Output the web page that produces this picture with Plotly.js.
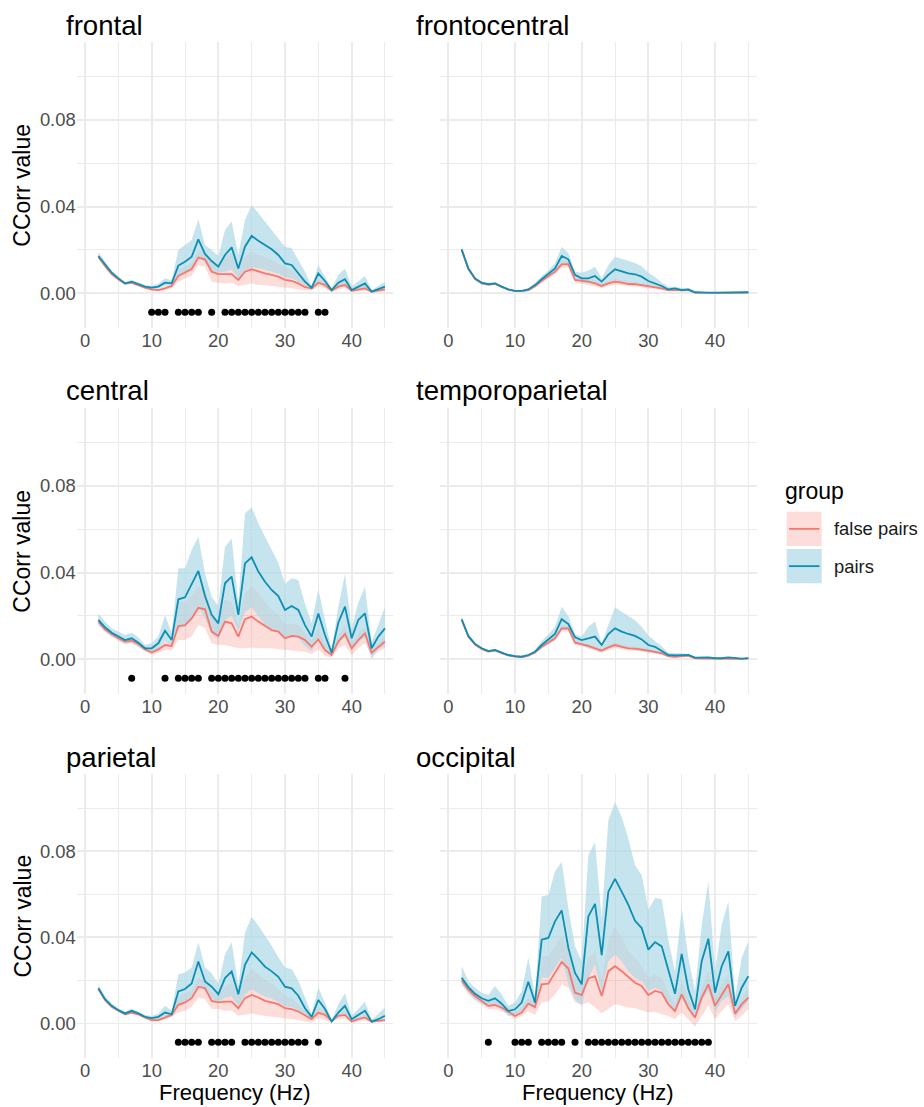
<!DOCTYPE html>
<html><head><meta charset="utf-8">
<script src="https://cdn.plot.ly/plotly-3.0.1.min.js"></script>
<style>html,body{margin:0;padding:0;background:#fff;overflow:hidden}</style>
</head><body><div id="chart" style="width:924px;height:1107px"></div>
<script>
// ---------------- DATA ----------------
const freq = [2,3,4,5,6,7,8,9,10,11,12,13,14,15,16,17,18,19,20,21,22,23,24,25,26,27,28,29,30,31,32,33,34,35,36,37,38,39,40,41,42,43,44,45];
const regions = ["frontal","frontocentral","central","temporoparietal","parietal","occipital"];
const groups = ["false pairs","pairs"];
const sigLevel = -0.0087;

// frontal
const frontalPairsMean = [0.0172,0.0131,0.0095,0.0069,0.0045,0.0054,0.0043,0.0031,0.0026,0.0031,0.0049,0.0046,0.0128,0.0146,0.0169,0.0249,0.0182,0.0149,0.0123,0.0177,0.0212,0.0115,0.0215,0.0265,0.0243,0.0223,0.0203,0.0177,0.0138,0.0131,0.0095,0.0054,0.0026,0.0092,0.0057,0.0015,0.0049,0.0065,0.0015,0.0031,0.0046,0.0008,0.0018,0.0031];
const frontalPairsHi = [0.0190,0.0145,0.0105,0.0078,0.0052,0.0062,0.0050,0.0038,0.0034,0.0045,0.0070,0.0060,0.0200,0.0223,0.0246,0.0342,0.0223,0.0200,0.0172,0.0292,0.0331,0.0177,0.0338,0.0408,0.0369,0.0331,0.0292,0.0254,0.0215,0.0208,0.0154,0.0100,0.0031,0.0131,0.0077,0.0023,0.0085,0.0115,0.0031,0.0054,0.0080,0.0015,0.0034,0.0054];
const frontalPairsLo = [0.0160,0.0120,0.0087,0.0062,0.0040,0.0047,0.0037,0.0026,0.0020,0.0022,0.0035,0.0036,0.0085,0.0100,0.0115,0.0170,0.0140,0.0105,0.0095,0.0100,0.0110,0.0070,0.0105,0.0120,0.0115,0.0110,0.0100,0.0090,0.0075,0.0070,0.0055,0.0035,0.0020,0.0050,0.0040,0.0010,0.0030,0.0040,0.0010,0.0020,0.0025,0.0003,0.0008,0.0015];
const frontalFalseMean = [0.0169,0.0126,0.0089,0.0065,0.0046,0.0049,0.0038,0.0026,0.0018,0.0015,0.0023,0.0034,0.0080,0.0095,0.0112,0.0165,0.0157,0.0100,0.0089,0.0089,0.0089,0.0062,0.0100,0.0111,0.0100,0.0092,0.0085,0.0077,0.0062,0.0058,0.0046,0.0028,0.0023,0.0049,0.0038,0.0012,0.0031,0.0038,0.0012,0.0018,0.0023,0.0008,0.0012,0.0018];
const frontalFalseHi = [0.0178,0.0134,0.0096,0.0072,0.0053,0.0056,0.0045,0.0033,0.0025,0.0023,0.0032,0.0042,0.0108,0.0123,0.0138,0.0200,0.0185,0.0138,0.0131,0.0169,0.0185,0.0131,0.0169,0.0192,0.0177,0.0166,0.0154,0.0138,0.0120,0.0108,0.0085,0.0054,0.0034,0.0069,0.0054,0.0018,0.0046,0.0054,0.0018,0.0031,0.0038,0.0012,0.0022,0.0028];
const frontalFalseLo = [0.0160,0.0118,0.0082,0.0058,0.0039,0.0042,0.0031,0.0019,0.0011,0.0008,0.0014,0.0024,0.0054,0.0069,0.0080,0.0131,0.0123,0.0054,0.0049,0.0046,0.0049,0.0034,0.0038,0.0046,0.0038,0.0038,0.0034,0.0031,0.0028,0.0023,0.0018,0.0015,0.0012,0.0031,0.0023,0.0006,0.0018,0.0025,0.0006,0.0010,0.0012,0.0003,0.0006,0.0010];
const frontalSig = [10,11,12,14,15,16,17,19,21,22,23,24,25,26,27,28,29,30,31,32,33,35,36];

// frontocentral
const frontocentralPairsMean = [0.0203,0.0115,0.0069,0.0049,0.0042,0.0046,0.0031,0.0018,0.0011,0.0011,0.0018,0.0038,0.0065,0.0089,0.0115,0.0172,0.0157,0.0085,0.0069,0.0069,0.0080,0.0054,0.0085,0.0111,0.0100,0.0092,0.0088,0.0077,0.0057,0.0046,0.0034,0.0018,0.0023,0.0015,0.0018,0.0005,0.0003,0.0003,0.0003,0.0003,0.0003,0.0003,0.0004,0.0005];
const frontocentralPairsHi = [0.0215,0.0125,0.0076,0.0055,0.0047,0.0051,0.0035,0.0021,0.0014,0.0014,0.0023,0.0048,0.0080,0.0105,0.0140,0.0215,0.0185,0.0100,0.0095,0.0105,0.0123,0.0070,0.0130,0.0169,0.0160,0.0150,0.0140,0.0125,0.0095,0.0075,0.0050,0.0030,0.0030,0.0025,0.0025,0.0008,0.0005,0.0005,0.0005,0.0005,0.0005,0.0005,0.0006,0.0007];
const frontocentralPairsLo = [0.0190,0.0105,0.0062,0.0043,0.0037,0.0041,0.0027,0.0015,0.0008,0.0008,0.0013,0.0030,0.0055,0.0075,0.0095,0.0135,0.0130,0.0070,0.0050,0.0045,0.0045,0.0040,0.0050,0.0060,0.0050,0.0045,0.0045,0.0040,0.0030,0.0025,0.0020,0.0010,0.0015,0.0008,0.0010,0.0002,0.0001,0.0001,0.0001,0.0001,0.0001,0.0001,0.0002,0.0003];
const frontocentralFalseMean = [0.0200,0.0112,0.0066,0.0046,0.0040,0.0044,0.0030,0.0017,0.0010,0.0010,0.0015,0.0033,0.0058,0.0080,0.0100,0.0134,0.0135,0.0062,0.0058,0.0054,0.0046,0.0034,0.0046,0.0054,0.0049,0.0043,0.0042,0.0038,0.0031,0.0028,0.0023,0.0015,0.0015,0.0012,0.0015,0.0003,0.0002,0.0002,0.0002,0.0002,0.0002,0.0002,0.0002,0.0003];
const frontocentralFalseHi = [0.0210,0.0120,0.0072,0.0051,0.0045,0.0049,0.0034,0.0021,0.0014,0.0014,0.0020,0.0040,0.0068,0.0090,0.0112,0.0150,0.0148,0.0075,0.0070,0.0068,0.0060,0.0045,0.0058,0.0068,0.0062,0.0055,0.0053,0.0048,0.0040,0.0036,0.0030,0.0020,0.0020,0.0017,0.0020,0.0005,0.0004,0.0004,0.0004,0.0004,0.0004,0.0004,0.0004,0.0005];
const frontocentralFalseLo = [0.0190,0.0104,0.0060,0.0041,0.0035,0.0039,0.0026,0.0013,0.0006,0.0006,0.0010,0.0026,0.0048,0.0070,0.0088,0.0118,0.0120,0.0050,0.0045,0.0040,0.0033,0.0024,0.0034,0.0040,0.0036,0.0032,0.0031,0.0028,0.0022,0.0020,0.0016,0.0010,0.0010,0.0007,0.0010,0.0001,0.0000,0.0000,0.0000,0.0000,0.0000,0.0000,0.0000,0.0001];
const frontocentralSig = [];

// central
const centralPairsMean = [0.0182,0.0148,0.0123,0.0105,0.0089,0.0097,0.0077,0.0051,0.0051,0.0074,0.0132,0.0089,0.0277,0.0286,0.0348,0.0408,0.0292,0.0205,0.0166,0.0351,0.0382,0.0205,0.0443,0.0471,0.0405,0.0358,0.0320,0.0292,0.0228,0.0246,0.0228,0.0158,0.0105,0.0212,0.0112,0.0031,0.0169,0.0243,0.0097,0.0182,0.0212,0.0051,0.0105,0.0143];
const centralPairsHi = [0.0212,0.0174,0.0143,0.0128,0.0112,0.0123,0.0102,0.0066,0.0074,0.0105,0.0205,0.0120,0.0420,0.0420,0.0505,0.0566,0.0397,0.0289,0.0246,0.0520,0.0558,0.0258,0.0674,0.0702,0.0628,0.0566,0.0505,0.0446,0.0348,0.0374,0.0366,0.0255,0.0166,0.0323,0.0182,0.0043,0.0243,0.0394,0.0143,0.0262,0.0335,0.0082,0.0158,0.0243];
const centralPairsLo = [0.0160,0.0130,0.0105,0.0088,0.0073,0.0078,0.0060,0.0038,0.0035,0.0050,0.0085,0.0065,0.0140,0.0150,0.0190,0.0240,0.0190,0.0120,0.0090,0.0180,0.0200,0.0130,0.0220,0.0240,0.0200,0.0160,0.0140,0.0130,0.0100,0.0110,0.0100,0.0060,0.0040,0.0100,0.0040,0.0015,0.0080,0.0100,0.0040,0.0080,0.0100,0.0000,0.0050,0.0060];
const centralFalseMean = [0.0174,0.0138,0.0117,0.0097,0.0082,0.0086,0.0071,0.0046,0.0031,0.0046,0.0066,0.0062,0.0154,0.0158,0.0189,0.0238,0.0231,0.0128,0.0108,0.0174,0.0166,0.0105,0.0185,0.0197,0.0174,0.0154,0.0135,0.0128,0.0097,0.0108,0.0105,0.0089,0.0058,0.0092,0.0043,0.0020,0.0082,0.0117,0.0051,0.0089,0.0120,0.0031,0.0058,0.0082];
const centralFalseHi = [0.0186,0.0150,0.0129,0.0109,0.0094,0.0098,0.0083,0.0058,0.0045,0.0060,0.0085,0.0078,0.0266,0.0266,0.0297,0.0335,0.0320,0.0197,0.0178,0.0274,0.0266,0.0158,0.0305,0.0338,0.0305,0.0266,0.0228,0.0205,0.0158,0.0166,0.0158,0.0120,0.0089,0.0143,0.0074,0.0031,0.0112,0.0158,0.0074,0.0120,0.0151,0.0043,0.0074,0.0112];
const centralFalseLo = [0.0160,0.0125,0.0105,0.0085,0.0070,0.0072,0.0058,0.0035,0.0022,0.0030,0.0042,0.0042,0.0089,0.0089,0.0105,0.0158,0.0143,0.0074,0.0066,0.0066,0.0058,0.0051,0.0051,0.0055,0.0051,0.0051,0.0051,0.0046,0.0043,0.0043,0.0040,0.0035,0.0025,0.0046,0.0015,0.0009,0.0051,0.0066,0.0020,0.0051,0.0074,0.0015,0.0035,0.0051];
const centralSig = [7,12,14,15,16,17,19,20,21,22,23,24,25,26,27,28,29,30,31,32,33,35,36,39];

// temporoparietal
const temporoparietalPairsMean = [0.0185,0.0108,0.0071,0.0051,0.0038,0.0043,0.0031,0.0020,0.0015,0.0012,0.0020,0.0035,0.0066,0.0092,0.0117,0.0185,0.0163,0.0102,0.0089,0.0097,0.0105,0.0066,0.0117,0.0143,0.0128,0.0117,0.0108,0.0092,0.0066,0.0058,0.0040,0.0020,0.0018,0.0018,0.0020,0.0008,0.0008,0.0009,0.0005,0.0005,0.0009,0.0005,0.0003,0.0006];
const temporoparietalPairsHi = [0.0195,0.0115,0.0077,0.0056,0.0043,0.0048,0.0035,0.0024,0.0019,0.0016,0.0025,0.0042,0.0085,0.0115,0.0150,0.0243,0.0200,0.0115,0.0105,0.0150,0.0174,0.0070,0.0160,0.0240,0.0220,0.0200,0.0180,0.0150,0.0110,0.0085,0.0060,0.0030,0.0030,0.0028,0.0025,0.0010,0.0010,0.0011,0.0007,0.0007,0.0011,0.0007,0.0005,0.0008];
const temporoparietalPairsLo = [0.0175,0.0100,0.0065,0.0046,0.0034,0.0038,0.0027,0.0016,0.0011,0.0008,0.0015,0.0028,0.0050,0.0070,0.0090,0.0135,0.0135,0.0080,0.0065,0.0050,0.0045,0.0040,0.0060,0.0065,0.0055,0.0050,0.0045,0.0040,0.0030,0.0030,0.0020,0.0010,0.0008,0.0010,0.0012,0.0002,0.0002,0.0002,0.0001,0.0001,0.0002,0.0001,0.0000,0.0002];
const temporoparietalFalseMean = [0.0182,0.0105,0.0068,0.0048,0.0036,0.0041,0.0029,0.0018,0.0013,0.0010,0.0017,0.0032,0.0058,0.0077,0.0097,0.0143,0.0143,0.0077,0.0071,0.0062,0.0051,0.0040,0.0055,0.0066,0.0058,0.0051,0.0049,0.0046,0.0040,0.0034,0.0028,0.0015,0.0012,0.0015,0.0017,0.0005,0.0003,0.0003,0.0003,0.0002,0.0003,0.0002,0.0002,0.0003];
const temporoparietalFalseHi = [0.0190,0.0112,0.0074,0.0053,0.0041,0.0046,0.0034,0.0022,0.0017,0.0014,0.0022,0.0038,0.0066,0.0086,0.0108,0.0158,0.0155,0.0088,0.0080,0.0072,0.0062,0.0048,0.0066,0.0078,0.0070,0.0062,0.0058,0.0055,0.0048,0.0042,0.0034,0.0020,0.0017,0.0020,0.0021,0.0007,0.0005,0.0005,0.0005,0.0004,0.0005,0.0004,0.0004,0.0005];
const temporoparietalFalseLo = [0.0174,0.0098,0.0062,0.0043,0.0031,0.0036,0.0024,0.0014,0.0009,0.0006,0.0012,0.0026,0.0050,0.0068,0.0086,0.0128,0.0130,0.0066,0.0062,0.0052,0.0040,0.0032,0.0044,0.0054,0.0046,0.0040,0.0040,0.0037,0.0032,0.0026,0.0022,0.0010,0.0007,0.0010,0.0013,0.0003,0.0001,0.0001,0.0001,0.0000,0.0001,0.0000,0.0000,0.0001];
const temporoparietalSig = [];

// parietal
const parietalPairsMean = [0.0164,0.0113,0.0082,0.0062,0.0047,0.0059,0.0047,0.0031,0.0025,0.0031,0.0051,0.0043,0.0149,0.0160,0.0186,0.0288,0.0195,0.0171,0.0136,0.0211,0.0242,0.0136,0.0273,0.0330,0.0299,0.0264,0.0242,0.0217,0.0171,0.0163,0.0129,0.0071,0.0031,0.0109,0.0067,0.0009,0.0051,0.0082,0.0020,0.0040,0.0059,0.0009,0.0020,0.0036];
const parietalPairsHi = [0.0182,0.0125,0.0092,0.0070,0.0055,0.0068,0.0055,0.0040,0.0035,0.0045,0.0082,0.0059,0.0229,0.0237,0.0260,0.0377,0.0260,0.0233,0.0183,0.0322,0.0377,0.0175,0.0423,0.0496,0.0454,0.0407,0.0361,0.0307,0.0260,0.0253,0.0198,0.0121,0.0043,0.0167,0.0098,0.0016,0.0090,0.0140,0.0036,0.0067,0.0102,0.0016,0.0043,0.0074];
const parietalPairsLo = [0.0150,0.0103,0.0074,0.0055,0.0040,0.0050,0.0040,0.0024,0.0018,0.0020,0.0035,0.0033,0.0090,0.0105,0.0125,0.0180,0.0145,0.0115,0.0100,0.0120,0.0125,0.0080,0.0135,0.0160,0.0140,0.0125,0.0115,0.0100,0.0080,0.0075,0.0060,0.0040,0.0020,0.0060,0.0045,0.0005,0.0035,0.0045,0.0010,0.0025,0.0035,0.0004,0.0010,0.0020];
const parietalFalseMean = [0.0160,0.0109,0.0078,0.0059,0.0043,0.0051,0.0043,0.0028,0.0016,0.0016,0.0028,0.0040,0.0087,0.0098,0.0118,0.0171,0.0164,0.0105,0.0098,0.0102,0.0102,0.0071,0.0118,0.0133,0.0121,0.0105,0.0098,0.0090,0.0071,0.0067,0.0056,0.0036,0.0020,0.0051,0.0040,0.0012,0.0036,0.0040,0.0009,0.0020,0.0028,0.0009,0.0012,0.0016];
const parietalFalseHi = [0.0168,0.0116,0.0085,0.0066,0.0050,0.0058,0.0050,0.0035,0.0024,0.0025,0.0038,0.0048,0.0129,0.0140,0.0152,0.0214,0.0195,0.0144,0.0136,0.0175,0.0191,0.0136,0.0214,0.0253,0.0229,0.0206,0.0186,0.0160,0.0129,0.0118,0.0090,0.0059,0.0028,0.0074,0.0056,0.0018,0.0051,0.0059,0.0016,0.0030,0.0040,0.0013,0.0018,0.0025];
const parietalFalseLo = [0.0152,0.0102,0.0071,0.0052,0.0036,0.0044,0.0036,0.0021,0.0009,0.0008,0.0018,0.0032,0.0051,0.0059,0.0078,0.0121,0.0113,0.0067,0.0067,0.0059,0.0059,0.0036,0.0040,0.0047,0.0040,0.0036,0.0031,0.0028,0.0025,0.0020,0.0016,0.0009,0.0005,0.0025,0.0016,0.0005,0.0020,0.0022,0.0003,0.0010,0.0015,0.0004,0.0006,0.0008];
const parietalSig = [14,15,16,17,19,20,21,22,24,25,26,27,28,29,30,31,32,33,35];

// occipital
const occipitalPairsMean = [0.0212,0.0169,0.0138,0.0117,0.0105,0.0117,0.0092,0.0058,0.0066,0.0097,0.0194,0.0097,0.0389,0.0397,0.0474,0.0525,0.0351,0.0235,0.0182,0.0497,0.0555,0.0317,0.0612,0.0671,0.0612,0.0551,0.0477,0.0443,0.0343,0.0378,0.0358,0.0243,0.0138,0.0323,0.0158,0.0066,0.0289,0.0394,0.0143,0.0266,0.0335,0.0082,0.0166,0.0220];
const occipitalPairsHi = [0.0266,0.0197,0.0166,0.0143,0.0132,0.0174,0.0135,0.0082,0.0097,0.0151,0.0305,0.0128,0.0589,0.0597,0.0705,0.0751,0.0535,0.0358,0.0289,0.0782,0.0843,0.0489,0.0943,0.1028,0.0958,0.0858,0.0735,0.0689,0.0528,0.0582,0.0578,0.0389,0.0243,0.0535,0.0305,0.0151,0.0458,0.0658,0.0243,0.0458,0.0566,0.0120,0.0305,0.0382];
const occipitalPairsLo = [0.0182,0.0143,0.0112,0.0092,0.0082,0.0082,0.0066,0.0035,0.0040,0.0058,0.0097,0.0058,0.0212,0.0212,0.0258,0.0305,0.0182,0.0112,0.0082,0.0212,0.0274,0.0143,0.0289,0.0320,0.0289,0.0243,0.0212,0.0197,0.0151,0.0166,0.0151,0.0089,0.0051,0.0120,0.0066,0.0020,0.0105,0.0151,0.0051,0.0105,0.0128,0.0028,0.0066,0.0105];
const occipitalFalseMean = [0.0200,0.0158,0.0128,0.0105,0.0082,0.0086,0.0074,0.0055,0.0035,0.0051,0.0092,0.0077,0.0182,0.0185,0.0235,0.0286,0.0255,0.0143,0.0132,0.0209,0.0220,0.0128,0.0243,0.0266,0.0243,0.0215,0.0189,0.0174,0.0132,0.0151,0.0143,0.0089,0.0058,0.0135,0.0071,0.0028,0.0120,0.0182,0.0082,0.0132,0.0182,0.0046,0.0089,0.0120];
const occipitalFalseHi = [0.0220,0.0178,0.0148,0.0125,0.0102,0.0106,0.0094,0.0075,0.0055,0.0075,0.0120,0.0100,0.0312,0.0312,0.0358,0.0405,0.0343,0.0212,0.0197,0.0305,0.0335,0.0205,0.0382,0.0451,0.0397,0.0335,0.0305,0.0266,0.0212,0.0228,0.0212,0.0143,0.0089,0.0197,0.0120,0.0051,0.0166,0.0243,0.0120,0.0182,0.0228,0.0058,0.0120,0.0166];
const occipitalFalseLo = [0.0182,0.0135,0.0108,0.0086,0.0066,0.0066,0.0058,0.0043,0.0020,0.0035,0.0058,0.0040,0.0097,0.0102,0.0135,0.0182,0.0166,0.0097,0.0089,0.0097,0.0074,0.0046,0.0066,0.0089,0.0082,0.0074,0.0071,0.0062,0.0051,0.0055,0.0043,0.0035,0.0020,0.0051,0.0020,-0.0015,0.0035,0.0082,0.0020,0.0058,0.0089,0.0012,0.0035,0.0066];
const occipitalSig = [6,10,11,12,14,15,16,17,19,21,22,23,24,25,26,27,28,29,30,31,32,33,34,35,36,37,38,39];

const xTicks = [0,10,20,30,40];
const yTicks = [0,0.04,0.08];
const yMinor = [0.02,0.06,0.10];

// ---------------- STYLE / LAYOUT ----------------
const W = 924, H = 1107;
const FONT = "Liberation Sans, Arial, Helvetica, sans-serif";
const redLine = "#F8766D", blueLine = "#0C8FB2";
const pinkFill = "rgba(248,118,109,0.25)", blueFill = "rgba(173,216,230,0.7)";
const px = v => v / W, py = v => 1 - v / H;

const colX = [[76.7, 393.3], [440, 756.7]];
const rowY = [[42.4, 328], [408.4, 694], [774, 1058]];

const panelData = [
  [frontalFalseLo, frontalFalseHi, frontalPairsLo, frontalPairsHi, frontalFalseMean, frontalPairsMean, frontalSig],
  [frontocentralFalseLo, frontocentralFalseHi, frontocentralPairsLo, frontocentralPairsHi, frontocentralFalseMean, frontocentralPairsMean, frontocentralSig],
  [centralFalseLo, centralFalseHi, centralPairsLo, centralPairsHi, centralFalseMean, centralPairsMean, centralSig],
  [temporoparietalFalseLo, temporoparietalFalseHi, temporoparietalPairsLo, temporoparietalPairsHi, temporoparietalFalseMean, temporoparietalPairsMean, temporoparietalSig],
  [parietalFalseLo, parietalFalseHi, parietalPairsLo, parietalPairsHi, parietalFalseMean, parietalPairsMean, parietalSig],
  [occipitalFalseLo, occipitalFalseHi, occipitalPairsLo, occipitalPairsHi, occipitalFalseMean, occipitalPairsMean, occipitalSig]
];

const traces = [];
const layout = {
  width: W, height: H,
  margin: {l: 0, r: 0, t: 0, b: 0},
  paper_bgcolor: "#fff", plot_bgcolor: "#fff",
  showlegend: false,
  font: {family: FONT, color: "#000"},
  annotations: [], shapes: []
};

regions.forEach((name, i) => {
  const col = i % 2, row = Math.floor(i / 2);
  const n = i + 1;
  const xa = n === 1 ? "x" : "x" + n, ya = n === 1 ? "y" : "y" + n;
  const xk = n === 1 ? "xaxis" : "xaxis" + n, yk = n === 1 ? "yaxis" : "yaxis" + n;
  const [fLo, fHi, pLo, pHi, fMean, pMean, sig] = panelData[i];
  const base = {x: freq, xaxis: xa, yaxis: ya, hoverinfo: "skip", showlegend: false};
  traces.push(Object.assign({}, base, {y: fLo, mode: "lines", line: {width: 0, color: pinkFill}}));
  traces.push(Object.assign({}, base, {y: fHi, mode: "lines", line: {width: 0, color: pinkFill}, fill: "tonexty", fillcolor: pinkFill}));
  traces.push(Object.assign({}, base, {y: pLo, mode: "lines", line: {width: 0, color: blueFill}}));
  traces.push(Object.assign({}, base, {y: pHi, mode: "lines", line: {width: 0, color: blueFill}, fill: "tonexty", fillcolor: blueFill}));
  traces.push(Object.assign({}, base, {y: fMean, mode: "lines", name: groups[0], line: {width: 1.8, color: redLine}}));
  traces.push(Object.assign({}, base, {y: pMean, mode: "lines", name: groups[1], line: {width: 1.8, color: blueLine}}));
  if (sig.length) {
    traces.push(Object.assign({}, base, {x: sig, y: sig.map(() => sigLevel), mode: "markers", marker: {size: 7, color: "#000"}}));
  }
  layout[xk] = {
    domain: [px(colX[col][0]), px(colX[col][1])], anchor: ya,
    range: [-1.25, 46.25], tickmode: "array", tickvals: xTicks,
    showgrid: true, gridcolor: "#EBEBEB", gridwidth: 1.8,
    minor: {dtick: 5, tick0: 0, showgrid: true, gridcolor: "#EBEBEB", gridwidth: 1},
    zeroline: false, showline: false, ticks: "",
    tickfont: {family: FONT, size: 18.4, color: "#4D4D4D"}, fixedrange: true
  };
  layout[yk] = {
    domain: [py(rowY[row][1]), py(rowY[row][0])], anchor: xa,
    range: [-0.016, 0.1158], tickmode: "array", tickvals: yTicks, tickformat: ".2f",
    showticklabels: col === 0,
    showgrid: true, gridcolor: "#EBEBEB", gridwidth: 1.8,
    minor: {tickmode: "array", tickvals: yMinor, showgrid: true, gridcolor: "#EBEBEB", gridwidth: 1},
    zeroline: false, showline: false, ticks: "",
    tickfont: {family: FONT, size: 18.4, color: "#4D4D4D"}, fixedrange: true
  };
  // panel title
  layout.annotations.push({
    text: name, xref: "paper", yref: "paper",
    x: px(col === 0 ? 64 : 414), y: py([25, 391, 757][row]),
    xanchor: "left", yanchor: "middle", showarrow: false,
    font: {family: FONT, size: 27.6, color: "#000"}
  });
  if (col === 0) {
    layout.annotations.push({
      text: "CCorr value", xref: "paper", yref: "paper", textangle: -90,
      x: px(22.5), y: py((rowY[row][0] + rowY[row][1]) / 2),
      xanchor: "center", yanchor: "middle", showarrow: false,
      font: {family: FONT, size: 23, color: "#000"}
    });
  }
  if (row === 2) {
    layout.annotations.push({
      text: "Frequency (Hz)", xref: "paper", yref: "paper",
      x: px((colX[col][0] + colX[col][1]) / 2), y: 0,
      xanchor: "center", yanchor: "bottom", showarrow: false,
      font: {family: FONT, size: 22, color: "#000"}
    });
  }
});

// legend (drawn by hand to mimic ggplot keys)
layout.annotations.push({text: "group", xref: "paper", yref: "paper", x: px(783), y: py(491),
  xanchor: "left", yanchor: "middle", showarrow: false, font: {family: FONT, size: 23, color: "#000"}});
const keyRows = [[511.7, 546, pinkFill, redLine], [549, 583.3, blueFill, blueLine]];
keyRows.forEach(([t, b, fillc, linec], k) => {
  layout.shapes.push({type: "rect", xref: "paper", yref: "paper", x0: px(786.7), x1: px(821.7), y0: py(b), y1: py(t),
    fillcolor: fillc, line: {width: 0}});
  layout.shapes.push({type: "line", xref: "paper", yref: "paper", x0: px(789), x1: px(819.5), y0: py((t + b) / 2), y1: py((t + b) / 2),
    line: {color: linec, width: 1.8}});
  layout.annotations.push({text: groups[k], xref: "paper", yref: "paper", x: px(832), y: py((t + b) / 2),
    xanchor: "left", yanchor: "middle", showarrow: false, font: {family: FONT, size: 18.4, color: "#1A1A1A"}});
});

Plotly.newPlot("chart", traces, layout, {staticPlot: true, displayModeBar: false});
</script>
</body></html>
